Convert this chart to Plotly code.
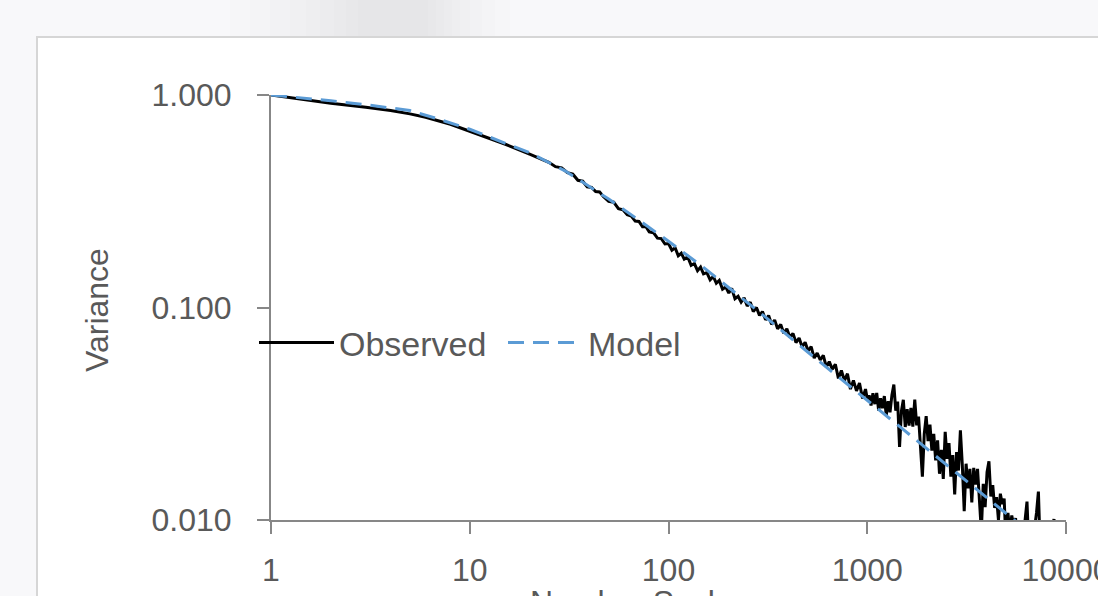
import plotly.graph_objects as go

# ---------------- data ----------------
model_x = [1, 1.5, 2, 3, 5, 7, 10, 15, 20, 30, 50, 70, 100, 150, 200, 300, 500, 700,
           1000, 1500, 2000, 3000, 5000, 7000, 8000]
model_y = [1.000, 0.966, 0.940, 0.900, 0.845, 0.769, 0.690, 0.594, 0.535, 0.441, 0.324,
           0.260, 0.205, 0.1545, 0.125, 0.0918, 0.0619, 0.0481, 0.0366, 0.0269, 0.0216,
           0.01585, 0.0107, 0.0083, 0.0075]

obs_x = [1, 1.5, 2, 3, 4, 5, 6, 8, 10, 12, 15, 20, 25,
         27, 29, 31, 33, 35, 37, 39, 41, 43, 45, 47, 50, 53, 56, 59, 62, 65, 68, 71, 74,
         77, 80, 84, 88, 92, 96, 100,
         104, 108, 112, 116, 120, 125, 130, 135, 140, 145, 150, 156, 162, 168, 174, 180,
         187, 194, 201, 208, 216, 224, 232, 240, 249, 258, 267, 277, 287, 297, 308, 319,
         330, 342, 354, 367, 380, 394, 408, 423, 438, 454, 470, 487, 504, 522, 541, 560,
         580, 601, 622, 644, 667, 691, 716, 741, 768, 795, 823, 852, 883, 914, 947, 980,
         1000,
         1022, 1045, 1068, 1092, 1116, 1141, 1166, 1192, 1219, 1246, 1274, 1302, 1331,
         1361, 1391, 1422, 1454, 1486, 1519, 1553, 1588, 1623, 1659, 1696, 1734, 1773,
         1812, 1852, 1894, 1936, 1979, 2023, 2068, 2114, 2161, 2209, 2259, 2309, 2360,
         2413, 2467, 2522, 2578, 2635, 2694, 2754, 2815, 2878, 2942, 3008, 3075, 3143,
         3213, 3285, 3358, 3433, 3509, 3588, 3668, 3749, 3833, 3918, 4006, 4095, 4186,
         4280, 4375, 4473, 4572, 4674, 4778, 4885, 4994, 5105, 5219, 5335, 5454, 5575,
         5700, 5827, 5956, 6089, 6225, 6364, 6505, 6650, 6799, 6950, 7105, 7263, 7425,
         7590, 7760, 7900, 8300, 8700, 9000]
obs_y = [1.000, 0.948, 0.915, 0.875, 0.845, 0.815, 0.786, 0.728, 0.675, 0.636, 0.588,
         0.527, 0.482,
         0.460, 0.454, 0.431, 0.424, 0.397, 0.393, 0.370, 0.367, 0.351, 0.350, 0.333,
         0.316, 0.313, 0.292, 0.288, 0.273, 0.269, 0.255, 0.254, 0.240, 0.240, 0.227,
         0.225, 0.212, 0.211, 0.199, 0.200,
         0.186, 0.191, 0.175, 0.180, 0.169, 0.173, 0.158, 0.161, 0.149, 0.155, 0.144,
         0.146, 0.135, 0.140, 0.130, 0.134, 0.122, 0.125, 0.117, 0.123, 0.110, 0.113,
         0.106, 0.111, 0.1016, 0.106, 0.0957, 0.100, 0.0918, 0.0957, 0.0875, 0.0916,
         0.0834, 0.0873, 0.0794, 0.0832, 0.0757, 0.0794, 0.0724, 0.0755, 0.0684, 0.0718,
         0.0653, 0.0686, 0.0624, 0.0655, 0.0578, 0.0611, 0.0566, 0.0596, 0.0526, 0.0556,
         0.0512, 0.0541, 0.0463, 0.0505, 0.0453, 0.0488, 0.0413, 0.0454, 0.0405, 0.0441,
         0.0373, 0.0413, 0.0371,
         0.0386, 0.0346, 0.0395, 0.0351, 0.0396, 0.0327, 0.0374, 0.0336, 0.0383, 0.0310,
         0.0362, 0.0321, 0.0388, 0.0434, 0.0327, 0.0361, 0.0221, 0.0326, 0.0368, 0.0274,
         0.0332, 0.0278, 0.0337, 0.0275, 0.0369, 0.0279, 0.0307, 0.0214, 0.0160, 0.0254,
         0.0308, 0.0235, 0.0281, 0.0212, 0.0254, 0.0191, 0.0237, 0.0165, 0.0214, 0.0156,
         0.0260, 0.0194, 0.0230, 0.0160, 0.0202, 0.0132, 0.0209, 0.0171, 0.0264, 0.0182,
         0.0110, 0.0184, 0.0141, 0.0174, 0.0121, 0.0176, 0.0147, 0.0174, 0.0119, 0.00885,
         0.0148, 0.0115, 0.0168, 0.0189, 0.0129, 0.0146, 0.0114, 0.0128, 0.0100, 0.0133,
         0.0119, 0.0126, 0.0076, 0.0108, 0.0086, 0.0105, 0.0094, 0.0102, 0.0077, 0.0094,
         0.0067, 0.0084, 0.0098, 0.0122, 0.0073, 0.0083, 0.0065, 0.0092, 0.0108, 0.0136,
         0.0071, 0.0088, 0.0054, 0.0066, 0.0078, 0.0101, 0.0075]

x_ticks = [1, 10, 100, 1000, 10000]
x_ticktext = ["1", "10", "100", "1000", "10000"]
y_ticks = [0.01, 0.1, 1]
y_ticktext = ["0.010", "0.100", "1.000"]

# ---------------- style ----------------
FONT = "Liberation Sans, Arial, sans-serif"
TXT = "#595959"
AX = "#878787"
W, H = 1098, 596
L, R, T, B = 271, 32, 95, 76
PW, PH = W - L - R, H - T - B


def px(xpix):
    return (xpix - L) / PW


def py(ypix):
    return (H - B - ypix) / PH


fig = go.Figure()
fig.add_trace(go.Scatter(x=obs_x, y=obs_y, mode="lines", name="Observed",
                         line=dict(color="black", width=3), legend="legend"))
fig.add_trace(go.Scatter(x=model_x, y=model_y, mode="lines", name="Model",
                         line=dict(color="#5b9bd5", width=3, dash="16px,9px"),
                         legend="legend2"))

shapes = []
# soft grey blur at top
for (a, b, op) in [(230, 510, 0.007), (250, 495, 0.007), (270, 482, 0.008),
                   (290, 470, 0.008), (306, 460, 0.009), (320, 452, 0.009),
                   (334, 444, 0.009), (346, 436, 0.009), (358, 428, 0.008)]:
    shapes.append(dict(type="rect", xref="paper", yref="paper", x0=px(a), x1=px(b),
                       y0=py(37), y1=py(0), fillcolor="black", opacity=op,
                       line=dict(width=0), layer="below"))
# white chart box
shapes.append(dict(type="rect", xref="paper", yref="paper", x0=px(37), x1=px(1110),
                   y0=py(610), y1=py(37), fillcolor="white",
                   line=dict(color="#d6d6d6", width=2), layer="below"))

leg_common = dict(orientation="h", xanchor="left", yanchor="middle",
                  bgcolor="rgba(0,0,0,0)", font=dict(size=34, color=TXT, family=FONT),
                  itemwidth=75)

fig.update_layout(
    width=W, height=H,
    margin=dict(l=L, r=R, t=T, b=B),
    paper_bgcolor="#f8f8fa", plot_bgcolor="rgba(0,0,0,0)",
    font=dict(family=FONT, size=32, color=TXT),
    shapes=shapes,
    showlegend=True,
    legend=dict(x=px(254), y=py(343), **leg_common),
    legend2=dict(x=px(503), y=py(343), **leg_common),
    xaxis=dict(type="log", range=[0, 4], tickvals=x_ticks, ticktext=x_ticktext,
               showgrid=False, zeroline=False, showline=True, linecolor=AX, linewidth=2,
               ticks="outside", ticklen=12, tickwidth=2, tickcolor=AX,
               ticklabelstandoff=9, automargin=False, ticklabeloverflow="allow",
               tickfont=dict(size=32, color=TXT, family=FONT)),
    yaxis=dict(type="log", range=[-2, 0], tickvals=y_ticks, ticktext=y_ticktext,
               showgrid=False, zeroline=False, showline=True, linecolor=AX, linewidth=2,
               ticks="outside", ticklen=12, tickwidth=2, tickcolor=AX,
               ticklabelstandoff=19, automargin=False, ticklabeloverflow="allow",
               tickfont=dict(size=32, color=TXT, family=FONT)),
    annotations=[
        dict(text="Number Scale", xref="paper", yref="paper",
             x=px(528), y=py(582), xanchor="left", yanchor="top", showarrow=False,
             font=dict(size=32, color=TXT, family=FONT)),
        dict(text="Variance", textangle=-90, xref="paper", yref="paper",
             x=px(97), y=py(310), xanchor="center", yanchor="middle", showarrow=False,
             font=dict(size=32, color=TXT, family=FONT)),
    ],
)

fig.write_html("out.html")
